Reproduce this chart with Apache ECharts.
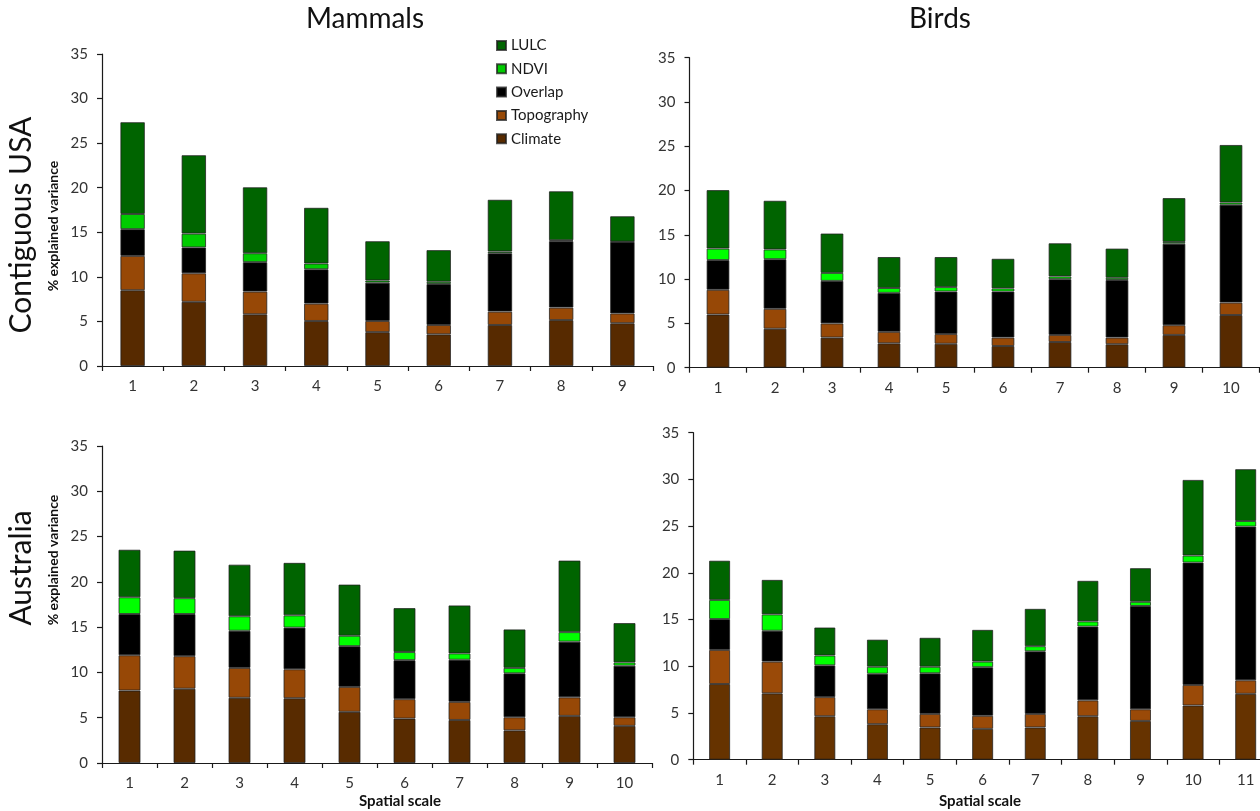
<!DOCTYPE html>
<html>
<head>
<meta charset="utf-8">
<script src="https://cdn.jsdelivr.net/npm/echarts@6/dist/echarts.min.js"></script>
<style>
html,body{margin:0;padding:0;background:#fff;}
#chart{width:1260px;height:811px;}
</style>
</head>
<body>
<div id="chart"></div>
<script>
// ---------- data ----------
const scales9  = ['1','2','3','4','5','6','7','8','9'];
const scales10 = ['1','2','3','4','5','6','7','8','9','10'];
const scales11 = ['1','2','3','4','5','6','7','8','9','10','11'];

// Mammals – Contiguous USA
const mamUSA_climate    = [8.5, 7.2, 5.8, 5.05, 3.8, 3.55, 4.6, 5.15, 4.8];
const mamUSA_topography = [3.85, 3.2, 2.55, 1.95, 1.25, 1.05, 1.5, 1.4, 1.1];
const mamUSA_overlap    = [3.0, 2.9, 3.3, 3.85, 4.3, 4.6, 6.55, 7.45, 8.0];
const mamUSA_ndvi       = [1.7, 1.55, 1.0, 0.65, 0.25, 0.25, 0.2, 0.1, 0.05];
const mamUSA_lulc       = [10.3, 8.8, 7.4, 6.25, 4.4, 3.55, 5.8, 5.5, 2.85];

// Birds – Contiguous USA
const birUSA_climate    = [6.0, 4.4, 3.4, 2.75, 2.7, 2.45, 2.9, 2.65, 3.7, 5.95];
const birUSA_topography = [2.8, 2.25, 1.6, 1.3, 1.1, 0.95, 0.8, 0.75, 1.1, 1.4];
const birUSA_overlap    = [3.35, 5.6, 4.8, 4.4, 4.8, 5.2, 6.3, 6.5, 9.2, 11.05];
const birUSA_ndvi       = [1.3, 1.1, 0.9, 0.55, 0.5, 0.35, 0.3, 0.25, 0.2, 0.25];
const birUSA_lulc       = [6.6, 5.5, 4.45, 3.5, 3.4, 3.35, 3.75, 3.3, 4.95, 6.5];

// Mammals – Australia
const mamAus_climate    = [8.0, 8.2, 7.2, 7.15, 5.65, 4.9, 4.75, 3.6, 5.2, 4.1];
const mamAus_topography = [3.9, 3.6, 3.3, 3.2, 2.75, 2.15, 2.0, 1.45, 2.05, 0.95];
const mamAus_overlap    = [4.55, 4.65, 4.1, 4.6, 4.5, 4.3, 4.65, 4.85, 6.15, 5.7];
const mamAus_ndvi       = [1.85, 1.75, 1.6, 1.35, 1.15, 0.9, 0.7, 0.6, 1.05, 0.35];
const mamAus_lulc       = [5.25, 5.25, 5.7, 5.8, 5.65, 4.85, 5.3, 4.25, 7.9, 4.35];

// Birds – Australia
const birAus_climate    = [8.1, 7.1, 4.65, 3.8, 3.45, 3.3, 3.45, 4.65, 4.15, 5.8, 7.05];
const birAus_topography = [3.65, 3.4, 2.05, 1.6, 1.45, 1.4, 1.45, 1.7, 1.25, 2.2, 1.45];
const birAus_overlap    = [3.3, 3.3, 3.4, 3.8, 4.35, 5.2, 6.7, 7.9, 11.05, 13.1, 16.45];
const birAus_ndvi       = [2.05, 1.75, 1.05, 0.75, 0.7, 0.6, 0.55, 0.55, 0.45, 0.75, 0.6];
const birAus_lulc       = [4.2, 3.7, 3.0, 2.9, 3.1, 3.4, 4.0, 4.35, 3.6, 8.1, 5.55];

const seriesNames = ['Climate', 'Topography', 'Overlap', 'NDVI', 'LULC'];

// ---------- styles ----------
const FONT = 'Lato';
const palettes = [
  ['#572a00', '#974806', '#000000', '#00cc00', '#006400'],
  ['#572a00', '#974806', '#000000', '#00ff00', '#006400'],
  ['#582b00', '#974806', '#000000', '#00ff00', '#006400'],
  ['#663300', '#9a4a08', '#000000', '#00ff00', '#006400']
];

const panels = [
  { cats: scales9,  data: [mamUSA_climate, mamUSA_topography, mamUSA_overlap, mamUSA_ndvi, mamUSA_lulc],
    grid: { left: 102, right: 607, top: 54, height: 312 } },
  { cats: scales10, data: [birUSA_climate, birUSA_topography, birUSA_overlap, birUSA_ndvi, birUSA_lulc],
    grid: { left: 689.5, right: 0.5, top: 57.7, height: 310 } },
  { cats: scales10, data: [mamAus_climate, mamAus_topography, mamAus_overlap, mamAus_ndvi, mamAus_lulc],
    grid: { left: 102, right: 608, top: 446, height: 317 } },
  { cats: scales11, data: [birAus_climate, birAus_topography, birAus_overlap, birAus_ndvi, birAus_lulc],
    grid: { left: 693.3, right: -12, top: 432.7, height: 327 } }
];

const grids = [], xAxes = [], yAxes = [], series = [];
panels.forEach((p, i) => {
  grids.push(Object.assign({ containLabel: false, outerBoundsMode: 'none' }, p.grid));
  xAxes.push({
    type: 'category', gridIndex: i, data: p.cats, boundaryGap: true,
    axisLine: { show: true, lineStyle: { color: '#1a1a1a', width: 1.2 } },
    axisTick: { show: true, length: 5, inside: false, alignWithLabel: false, lineStyle: { color: '#1a1a1a', width: 1.2 } },
    axisLabel: { color: '#333', fontSize: 15, fontFamily: FONT, margin: 13 },
    splitLine: { show: false }
  });
  yAxes.push({
    type: 'value', gridIndex: i, min: 0, max: 35, interval: 5,
    axisLine: { show: true, lineStyle: { color: '#1a1a1a', width: 1.2 } },
    axisTick: { show: true, length: 5, inside: false, lineStyle: { color: '#1a1a1a', width: 1.2 } },
    axisLabel: { color: '#333', fontSize: 15, fontFamily: FONT, margin: 14 },
    splitLine: { show: false }
  });
  seriesNames.forEach((name, k) => {
    series.push({
      name: name, type: 'bar', stack: 'p' + i,
      xAxisIndex: i, yAxisIndex: i,
      barWidth: '40%',
      data: p.data[k],
      itemStyle: { color: palettes[i][k], borderColor: 'rgba(30,30,30,0.75)', borderWidth: 1 },
      emphasis: { disabled: true },
      animation: false
    });
  });
});

const rotText = (text, x, y, size, weight) => ({
  type: 'text', x: x, y: y, rotation: Math.PI / 2,
  style: { text: text, fill: '#111', font: weight + ' ' + size + 'px ' + FONT, textAlign: 'center', textVerticalAlign: 'middle' }
});
const hText = (text, x, y, size, weight) => ({
  type: 'text', x: x, y: y,
  style: { text: text, fill: '#111', font: weight + ' ' + size + 'px ' + FONT, textAlign: 'center', textVerticalAlign: 'middle' }
});

const chart = echarts.init(document.getElementById('chart'), null, { renderer: 'canvas' });
chart.setOption({
  backgroundColor: '#fff',
  animation: false,
  textStyle: { fontFamily: FONT },
  grid: grids, xAxis: xAxes, yAxis: yAxes, series: series,
  legend: {
    data: ['LULC', 'NDVI', 'Overlap', 'Topography', 'Climate'],
    orient: 'vertical', left: 496, top: 38, padding: 0,
    itemWidth: 9, itemHeight: 9, itemGap: 8.3,
    icon: 'rect',
    selectedMode: false,
    textStyle: { fontSize: 15, fontFamily: FONT, color: '#1a1a1a', lineHeight: 15 }
  },
  graphic: [
    hText('Mammals', 365, 19, 28, 'normal'),
    hText('Birds', 940, 19, 28, 'normal'),
    rotText('Contiguous USA', 21, 225, 30, 'normal'),
    rotText('% explained variance', 53, 226, 14, 'bold'),
    rotText('Australia', 21, 568, 30, 'normal'),
    rotText('% explained variance', 53, 560, 14, 'bold'),
    hText('Spatial scale', 400, 801, 15, 'bold'),
    hText('Spatial scale', 980, 801, 15, 'bold')
  ]
});
</script>
</body>
</html>
